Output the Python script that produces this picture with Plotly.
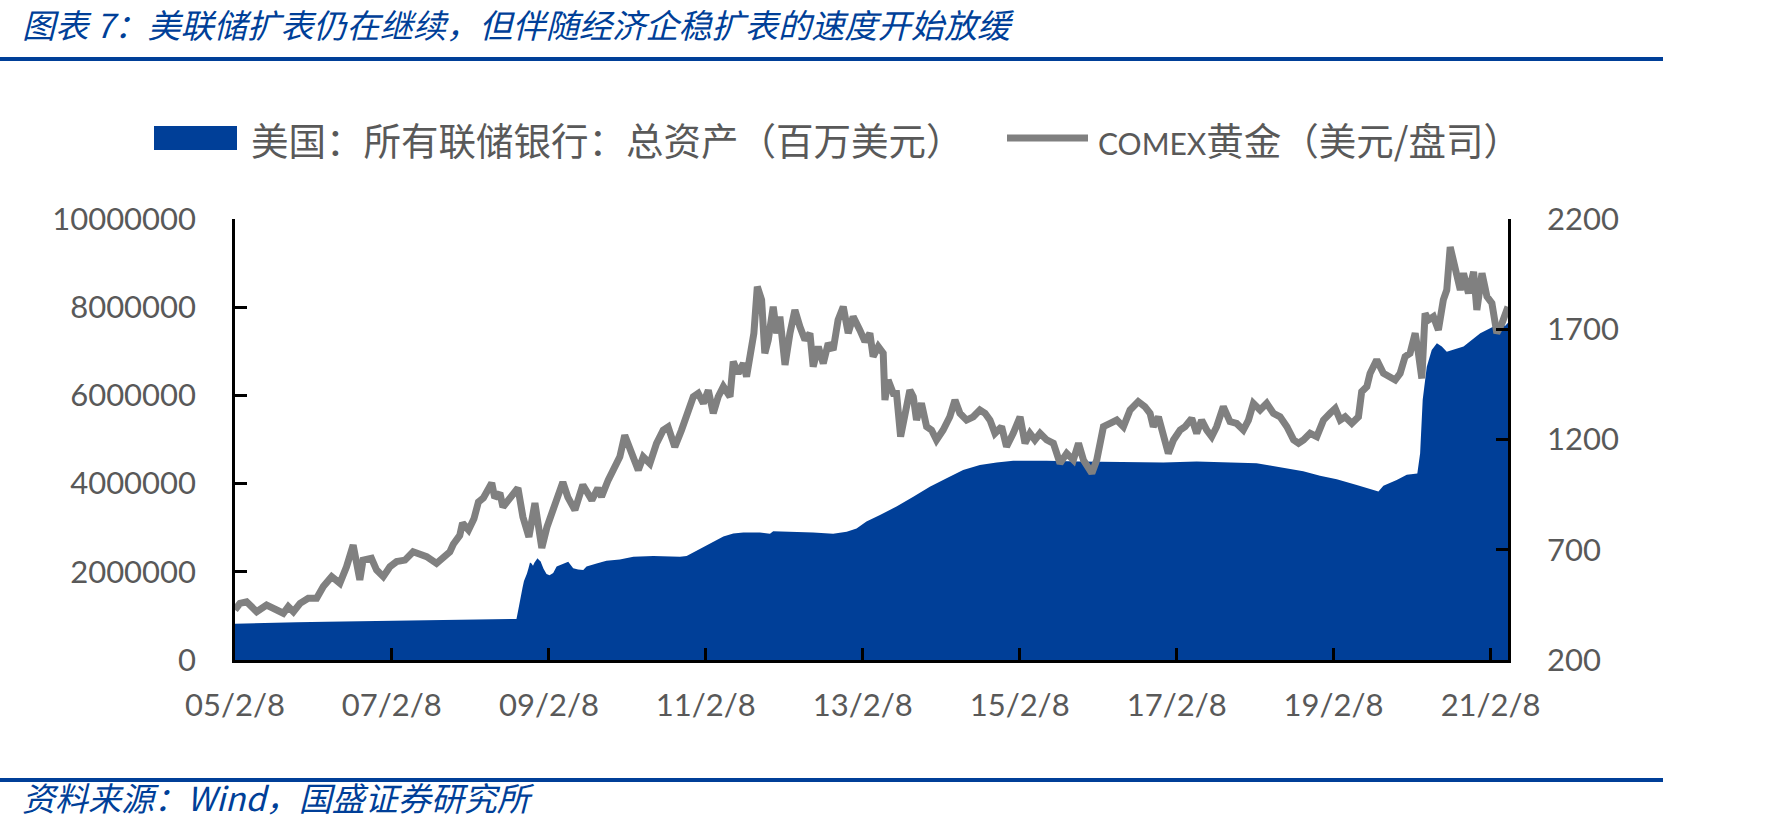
import plotly.graph_objects as go

# 美国：所有联储银行：总资产（百万美元）
fed_dates = [
    "2005-02-08", "2005-05-20", "2005-08-15", "2005-11-22", "2006-04-10", "2006-09-27",
    "2007-02-15", "2007-09-04", "2008-01-15", "2008-05-25", "2008-09-10",
    "2008-09-17", "2008-09-24", "2008-10-01", "2008-10-08", "2008-10-15", "2008-10-22",
    "2008-10-29", "2008-11-05", "2008-11-12", "2008-11-19", "2008-11-26", "2008-12-03",
    "2008-12-10", "2008-12-17", "2008-12-24", "2008-12-31",
    "2009-01-14", "2009-01-28", "2009-02-11", "2009-02-28", "2009-03-16", "2009-04-16",
    "2009-05-09", "2009-06-01", "2009-06-24", "2009-07-18", "2009-08-02", "2009-09-18",
    "2009-11-03", "2010-01-04", "2010-03-08", "2010-06-09", "2010-08-25", "2010-10-11",
    "2010-11-11", "2010-12-12", "2011-01-28", "2011-03-15", "2011-05-01", "2011-06-16",
    "2011-08-02", "2011-10-18", "2011-12-04", "2011-12-19", "2012-03-06", "2012-06-22",
    "2012-09-23", "2012-11-25", "2013-01-10", "2013-02-25", "2013-04-29", "2013-07-15",
    "2013-10-01", "2013-12-17", "2014-03-05", "2014-05-21", "2014-08-07", "2014-10-24",
    "2015-01-09", "2015-06-13", "2015-11-15", "2016-04-19", "2016-09-21", "2016-12-08",
    "2017-05-12", "2017-10-14", "2018-02-15", "2018-04-18", "2018-07-05", "2018-09-20",
    "2018-12-07", "2019-02-23", "2019-05-27", "2019-09-05", "2019-09-28", "2019-11-29",
    "2020-01-15", "2020-03-04", "2020-03-17", "2020-03-29", "2020-04-17", "2020-05-10",
    "2020-06-03", "2020-06-26", "2020-07-19", "2020-10-05", "2020-12-22", "2021-02-22",
    "2021-03-25", "2021-04-17", "2021-04-30",
]
fed_assets = [
    820000, 835000, 846000, 858000, 866000, 876000,
    884000, 892000, 902000, 915000, 930000,
    1100000, 1300000, 1500000, 1630000, 1790000, 1870000,
    1960000, 2080000, 2210000, 2190000, 2140000, 2210000,
    2260000, 2310000, 2270000, 2240000,
    2070000, 1950000, 1920000, 1970000, 2120000, 2190000,
    2230000, 2080000, 2050000, 2040000, 2120000, 2190000,
    2250000, 2280000, 2340000, 2360000, 2340000, 2340000,
    2360000, 2440000, 2570000, 2680000, 2800000, 2870000,
    2890000, 2890000, 2860000, 2920000, 2910000, 2890000,
    2860000, 2910000, 2980000, 3140000, 3290000, 3480000,
    3700000, 3930000, 4120000, 4310000, 4420000, 4480000,
    4520000, 4520000, 4500000, 4490000, 4490000, 4480000,
    4500000, 4480000, 4460000, 4410000, 4350000, 4280000,
    4180000, 4100000, 3970000, 3820000, 3950000, 4080000,
    4200000, 4230000, 4690000, 5900000, 6650000, 7030000,
    7180000, 7110000, 6990000, 7110000, 7410000, 7560000,
    7600000, 7580000, 7650000,
]

# COMEX黄金（美元/盎司）
gold_dates = [
    "2005-02-08", "2005-03-03", "2005-04-03", "2005-05-20", "2005-07-05", "2005-08-13",
    "2005-09-21", "2005-10-14", "2005-11-07", "2005-12-08", "2006-01-15", "2006-02-23",
    "2006-03-26", "2006-05-04", "2006-06-11", "2006-07-12", "2006-08-12", "2006-09-12",
    "2006-09-27", "2006-11-05", "2006-11-29", "2006-12-30", "2007-01-30", "2007-03-02",
    "2007-04-10", "2007-05-18", "2007-06-18", "2007-07-20", "2007-09-04", "2007-10-05",
    "2007-11-05", "2007-11-21", "2007-12-21", "2008-01-03", "2008-01-31", "2008-02-25",
    "2008-03-17", "2008-04-09", "2008-05-18", "2008-06-01", "2008-06-25", "2008-07-09",
    "2008-08-01", "2008-09-17", "2008-10-10", "2008-11-07", "2008-12-05", "2008-12-28",
    "2009-01-06", "2009-01-30", "2009-02-26", "2009-03-22", "2009-04-14", "2009-05-07",
    "2009-06-09", "2009-07-16", "2009-08-27", "2009-09-24", "2009-10-11", "2009-11-11",
    "2009-12-12", "2010-01-04", "2010-01-27", "2010-02-28", "2010-03-31", "2010-04-23",
    "2010-05-24", "2010-06-24", "2010-07-25", "2010-08-17", "2010-09-17", "2010-10-18",
    "2010-11-11", "2010-12-12", "2011-01-04", "2011-01-28", "2011-02-20", "2011-03-15",
    "2011-04-07", "2011-05-01", "2011-06-01", "2011-06-16", "2011-07-09", "2011-08-02",
    "2011-08-17", "2011-09-02", "2011-09-20", "2011-10-06", "2011-10-26", "2011-11-10",
    "2011-11-26", "2011-12-19", "2012-01-04", "2012-01-19", "2012-02-12", "2012-03-06",
    "2012-03-29", "2012-04-21", "2012-05-15", "2012-06-07", "2012-06-22", "2012-07-16",
    "2012-08-08", "2012-08-31", "2012-09-23", "2012-10-16", "2012-11-09", "2012-12-02",
    "2012-12-25", "2013-01-25", "2013-02-18", "2013-03-13", "2013-03-28", "2013-04-21",
    "2013-05-14", "2013-05-22", "2013-06-06", "2013-06-30", "2013-07-15", "2013-08-03",
    "2013-08-23", "2013-09-15", "2013-10-01", "2013-10-16", "2013-11-08", "2013-12-02",
    "2013-12-25", "2014-01-17", "2014-02-17", "2014-03-20", "2014-04-13", "2014-05-06",
    "2014-06-06", "2014-07-07", "2014-08-07", "2014-08-31", "2014-09-23", "2014-10-16",
    "2014-11-16", "2014-12-09", "2015-01-09", "2015-02-10", "2015-03-05", "2015-03-28",
    "2015-04-20", "2015-05-14", "2015-06-14", "2015-07-15", "2015-08-15", "2015-09-15",
    "2015-10-16", "2015-11-09", "2015-12-02", "2016-01-10", "2016-02-02", "2016-03-04",
    "2016-04-04", "2016-05-05", "2016-06-05", "2016-07-06", "2016-08-13", "2016-09-13",
    "2016-10-07", "2016-10-22", "2016-11-15", "2016-12-08", "2016-12-31", "2017-01-24",
    "2017-02-24", "2017-03-19", "2017-04-19", "2017-05-12", "2017-06-04", "2017-06-28",
    "2017-07-21", "2017-08-13", "2017-09-13", "2017-10-14", "2017-11-14", "2017-12-15",
    "2018-01-08", "2018-01-31", "2018-03-03", "2018-04-03", "2018-05-04", "2018-06-04",
    "2018-07-06", "2018-08-06", "2018-08-29", "2018-09-21", "2018-10-22", "2018-11-22",
    "2018-12-23", "2019-01-23", "2019-02-16", "2019-03-11", "2019-04-03", "2019-05-04",
    "2019-06-04", "2019-06-19", "2019-07-13", "2019-07-28", "2019-08-28", "2019-09-28",
    "2019-10-29", "2019-11-22", "2019-12-15", "2020-01-07", "2020-01-30", "2020-02-23",
    "2020-03-09", "2020-03-25", "2020-04-09", "2020-04-25", "2020-05-18", "2020-06-10",
    "2020-07-03", "2020-07-19", "2020-08-04", "2020-08-28", "2020-09-20", "2020-10-05",
    "2020-10-28", "2020-11-21", "2020-12-06", "2020-12-30", "2021-01-22", "2021-02-14",
    "2021-03-09", "2021-04-02", "2021-04-30",
]
gold_price = [
    427, 457, 464, 419, 449, 434,
    412, 442, 419, 457, 480, 480,
    533, 578, 548, 623, 721, 563,
    653, 661, 608, 578, 623, 646,
    653, 691, 684, 669, 638, 665,
    690, 725, 765, 821, 790, 840,
    917, 935, 1003, 935, 957, 894,
    925, 980, 849, 758, 912, 744,
    708, 803, 880, 925, 1007, 939,
    880, 994, 925, 980, 940, 1016,
    1076, 1121, 1219, 1136, 1061, 1121,
    1091, 1182, 1242, 1257, 1166, 1242,
    1303, 1394, 1409, 1364, 1424, 1319,
    1394, 1440, 1394, 1553, 1500, 1545,
    1485, 1606, 1682, 1893, 1833, 1591,
    1651, 1802, 1682, 1757, 1538, 1682,
    1787, 1712, 1651, 1682, 1530, 1621,
    1545, 1636, 1606, 1742, 1802, 1682,
    1757, 1697, 1644, 1682, 1576, 1621,
    1591, 1379, 1470, 1409, 1409, 1213,
    1319, 1424, 1394, 1288, 1364, 1258,
    1243, 1198, 1243, 1303, 1379, 1319,
    1288, 1303, 1334, 1319, 1288, 1228,
    1258, 1167, 1228, 1303, 1183, 1228,
    1198, 1228, 1198, 1183, 1092, 1137,
    1107, 1183, 1107, 1047, 1107, 1258,
    1273, 1288, 1258, 1334, 1372, 1349,
    1319, 1258, 1303, 1228, 1137, 1198,
    1243, 1258, 1296, 1228, 1288, 1243,
    1213, 1258, 1349, 1281, 1273, 1243,
    1288, 1364, 1334, 1364, 1319, 1303,
    1258, 1198, 1183, 1198, 1228, 1213,
    1288, 1319, 1341, 1288, 1303, 1273,
    1303, 1417, 1440, 1500, 1561, 1500,
    1485, 1470, 1500, 1576, 1591, 1682,
    1591, 1477, 1772, 1742, 1757, 1697,
    1833, 1878, 2073, 1984, 1878, 1954,
    1863, 1961, 1787, 1954, 1848, 1818,
    1682, 1727, 1802,
]

x_ticks_start = "2005-02-08"
x_end = "2021-04-30"

BLUE = "#003F98"
GREY = "#808080"
TXT = "#595959"

# plot area in pixels
L, R, T, B = 235, 1508, 219, 660


def px_x(p):
    return (p - L) / (R - L)


def px_y(p):
    return (B - p) / (B - T)


fig = go.Figure()
fig.add_trace(go.Scatter(
    x=fed_dates, y=fed_assets, mode="lines", fill="tozeroy",
    line=dict(width=0, color=BLUE), fillcolor=BLUE,
    name="美国：所有联储银行：总资产（百万美元）", showlegend=False,
))
fig.add_trace(go.Scatter(
    x=gold_dates, y=gold_price, mode="lines", yaxis="y2",
    line=dict(width=7, color=GREY),
    name="COMEX黄金（美元/盎司）", showlegend=False,
))

tickfont = dict(family="Lato", size=31, color=TXT)
fig.update_layout(
    width=1784, height=830, autosize=False,
    margin=dict(l=L, r=1784 - R, t=T, b=830 - B, pad=0),
    paper_bgcolor="white", plot_bgcolor="white",
    xaxis=dict(
        type="date", range=[x_ticks_start, x_end],
        tick0=x_ticks_start, dtick="M24", tickformat="%y/%-m/%-d",
        showline=True, linecolor="black", linewidth=3,
        ticks="inside", ticklen=12, tickwidth=2.5, tickcolor="black",
        showgrid=False, zeroline=False, tickfont=tickfont,
        ticklabelstandoff=16,
    ),
    yaxis=dict(
        range=[0, 10000000], tick0=0, dtick=2000000, tickformat="d",
        showline=True, linecolor="black", linewidth=2.5,
        ticks="inside", ticklen=12, tickwidth=2.5, tickcolor="black",
        showgrid=False, zeroline=False, tickfont=tickfont,
        ticklabelstandoff=30,
    ),
    yaxis2=dict(
        range=[200, 2200], tick0=200, dtick=500, overlaying="y", side="right",
        showline=True, linecolor="black", linewidth=2.5,
        ticks="inside", ticklen=12, tickwidth=2.5, tickcolor="black",
        showgrid=False, zeroline=False, tickfont=tickfont,
        ticklabelstandoff=30,
    ),
)

shapes = [
    # header / footer rules
    dict(type="line", xref="paper", yref="paper", x0=px_x(0), x1=px_x(1663),
         y0=px_y(59), y1=px_y(59), line=dict(color=BLUE, width=4)),
    dict(type="line", xref="paper", yref="paper", x0=px_x(0), x1=px_x(1663),
         y0=px_y(780), y1=px_y(780), line=dict(color=BLUE, width=4)),
    # legend keys
    dict(type="rect", xref="paper", yref="paper", x0=px_x(154), x1=px_x(237),
         y0=px_y(150), y1=px_y(126), fillcolor=BLUE, line=dict(width=0)),
    dict(type="line", xref="paper", yref="paper", x0=px_x(1007), x1=px_x(1088),
         y0=px_y(138), y1=px_y(138), line=dict(color=GREY, width=7)),
]
fig.update_layout(shapes=shapes)

annotations = [
    dict(text="<i>图表 7：美联储扩表仍在继续，但伴随经济企稳扩表的速度开始放缓</i>",
         x=px_x(20), y=px_y(24), xanchor="left", yanchor="middle",
         font=dict(family="Noto Sans CJK SC", size=33.2, color=BLUE)),
    dict(text="<i>资料来源：Wind，国盛证券研究所</i>",
         x=px_x(20), y=px_y(797), xanchor="left", yanchor="middle",
         font=dict(family="Noto Sans CJK SC", size=33, color=BLUE)),
    dict(text="美国：所有联储银行：总资产（百万美元）",
         x=px_x(249), y=px_y(138), xanchor="left", yanchor="middle",
         font=dict(family="Noto Sans CJK SC", size=37.5, color=TXT)),
    dict(text='<span style="font-family:Lato;font-size:30px">COMEX</span>黄金（美元/盘司）',
         x=px_x(1096), y=px_y(138), xanchor="left", yanchor="middle",
         font=dict(family="Noto Sans CJK SC", size=37.5, color=TXT)),
]
for a in annotations:
    a.update(xref="paper", yref="paper", showarrow=False, align="left")
fig.update_layout(annotations=annotations)

# drop the default 8px page margin so the figure sits at the window's origin
fig.write_html(
    "out.html",
    config={"displayModeBar": False},
    post_script="document.body.style.margin='0';",
)
